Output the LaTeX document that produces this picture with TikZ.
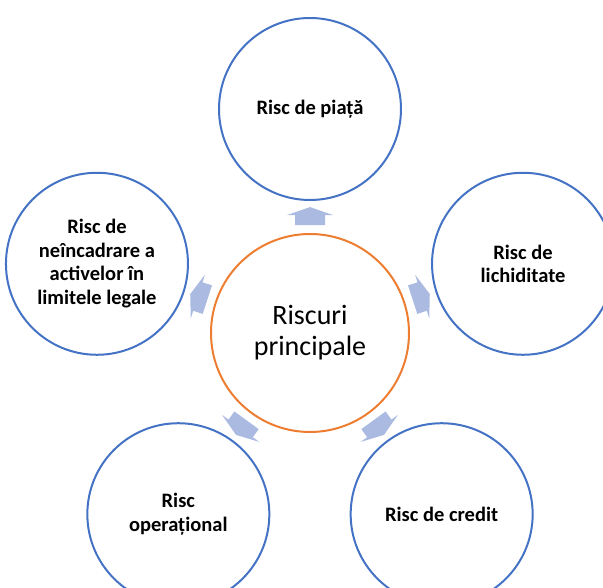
\documentclass[tikz,border=0pt]{standalone}
\usepackage{fontspec}
\setmainfont{Carlito}
\usetikzlibrary{calc}

\definecolor{ringblue}{RGB}{68,114,196}
\definecolor{ringorange}{RGB}{237,125,49}
\definecolor{arrowblue}{RGB}{170,186,224}

\tikzset{
    riskring/.style={circle, draw=ringblue, line width=2pt, minimum size=182pt,
        inner sep=0pt, align=center, font=\fontsize{20.5}{23.5}\selectfont\bfseries},
    mainring/.style={circle, draw=ringorange, line width=2pt, minimum size=198pt,
        inner sep=0pt, align=center, font=\fontsize{28}{31}\selectfont},
    % short block arrow pointing along +x, centred on its origin
    blockarrow/.pic={
        \fill[arrowblue] (-9, -15) -- (1, -15) -- (1, -23) -- (9, 0)
            -- (1, 23) -- (1, 15) -- (-9, 15) -- cycle;
    }
}

\begin{document}
\begin{tikzpicture}[x=1pt, y=1pt]
    % Canvas of the reference picture (603 x 587)
    \useasboundingbox (0, 0) rectangle (603, 587);
    \clip (0, 0) rectangle (603, 587);

    % Central circle
    \node[mainring] (principal) at (310, 254) {Riscuri\\principale};

    % Outer circles, placed round the centre
    \node[riskring] (piata)   at ($(principal)+(90:224)$)  {Risc de piață};
    \node[riskring] (lichid)  at ($(principal)+(18:224)$)  {Risc de\\lichiditate};
    \node[riskring] (credit)  at ($(principal)+(306:224)$) {Risc de credit};
    \node[riskring] (operat)  at ($(principal)+(234:224)$) {Risc\\operațional};
    \node[riskring] (legal)   at ($(principal)+(162:224)$) {Risc de\\neîncadrare a\\activelor în\\limitele legale};

    % Block arrows from the centre outwards
    \foreach \ang/\target in {90/piata, 18/lichid, 306/credit, 234/operat, 162/legal} {
        \coordinate (arr-\target) at ($(principal)!0.522!(\target)$);
        \pic[rotate=\ang] at (arr-\target) {blockarrow};
    }
\end{tikzpicture}
\end{document}
